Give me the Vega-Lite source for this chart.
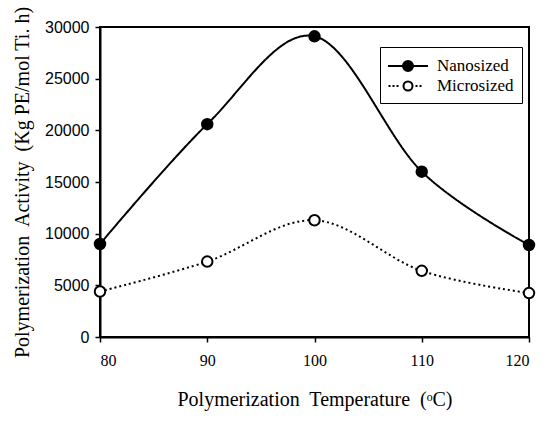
{
  "$schema": "https://vega.github.io/schema/vega-lite/v6.json",
  "autosize": {"type": "none"},
  "width": 429,
  "height": 310,
  "padding": {"left": 100, "top": 27, "right": 21, "bottom": 85},
  "background": "white",
  "config": {
    "view": {"stroke": "black", "strokeWidth": 2},
    "legend": {"symbolOpacity": 1},
    "axis": {
      "domainColor": "black",
      "domainWidth": 2,
      "tickColor": "black",
      "tickWidth": 1.5,
      "tickSize": 5,
      "labelColor": "black",
      "titleColor": "black",
      "grid": false,
      "titleFont": "Liberation Serif",
      "titleFontSize": 20,
      "titleFontWeight": "normal"
    }
  },
  "data": {
    "values": [
      {"temp": 80, "activity": 9000, "series": "Nanosized"},
      {"temp": 90, "activity": 20600, "series": "Nanosized"},
      {"temp": 100, "activity": 29100, "series": "Nanosized"},
      {"temp": 110, "activity": 16000, "series": "Nanosized"},
      {"temp": 120, "activity": 8900, "series": "Nanosized"},
      {"temp": 80, "activity": 4400, "series": "Microsized"},
      {"temp": 90, "activity": 7300, "series": "Microsized"},
      {"temp": 100, "activity": 11300, "series": "Microsized"},
      {"temp": 110, "activity": 6400, "series": "Microsized"},
      {"temp": 120, "activity": 4250, "series": "Microsized"}
    ]
  },
  "encoding": {
    "x": {
      "field": "temp",
      "type": "quantitative",
      "scale": {"domain": [80, 120], "nice": false, "zero": false},
      "axis": {
        "values": [80, 90, 100, 110, 120],
        "labelFont": "Liberation Serif",
        "labelFontSize": 16,
        "labelPadding": 10,
        "title": "Polymerization\u00a0 Temperature\u00a0 (\u1d52C)",
        "titlePadding": 21
      }
    },
    "y": {
      "field": "activity",
      "type": "quantitative",
      "scale": {"domain": [0, 30000], "nice": false},
      "axis": {
        "values": [0, 5000, 10000, 15000, 20000, 25000, 30000],
        "format": "d",
        "labelFont": "Liberation Sans",
        "labelFontSize": 16,
        "labelPadding": 6,
        "title": "Polymerization\u00a0 Activity\u00a0 (Kg PE/mol Ti. h)",
        "titlePadding": 12
      }
    }
  },
  "layer": [
    {
      "mark": {"type": "line", "interpolate": "cardinal", "stroke": "black", "strokeWidth": 2},
      "encoding": {
        "detail": {"field": "series"},
        "strokeDash": {
          "field": "series",
          "type": "nominal",
          "scale": {"domain": ["Microsized", "Nanosized"], "range": [[2, 3], [1, 0]]},
          "legend": null
        }
      }
    },
    {
      "mark": {"type": "point", "shape": "circle", "filled": true, "stroke": "black", "strokeWidth": 2, "size": 110, "opacity": 1},
      "encoding": {
        "fill": {
          "field": "series",
          "type": "nominal",
          "scale": {"domain": ["Nanosized", "Microsized"], "range": ["black", "white"]},
          "legend": {
            "title": null,
            "orient": "none",
            "legendX": 280,
            "legendY": 20,
            "padding": 8,
            "strokeColor": "black",
            "fillColor": "white",
            "symbolSize": 400,
            "symbolStrokeWidth": 2,
            "symbolStrokeColor": "black",
            "symbolOffset": 9,
            "labelOffset": 18,
            "rowPadding": 0,
            "labelFont": "Liberation Serif",
            "labelFontSize": 17,
            "labelColor": "black"
          }
        }
      }
    },
    {
      "mark": {"type": "point", "filled": true, "stroke": "black", "strokeWidth": 2, "opacity": 0},
      "encoding": {
        "shape": {
          "field": "series",
          "type": "nominal",
          "scale": {
            "domain": ["Nanosized", "Microsized"],
            "range": [
              "M-2,0H-0.5M0.5,0H2M-0.5,0A0.5,0.5,0,1,0,0.5,0A0.5,0.5,0,1,0,-0.5,0Z",
              "M-1.95,0h0.2M-1.55,0h0.2M-1.15,0h0.2M0.75,0h0.2M1.15,0h0.2M-0.45,0A0.45,0.45,0,1,0,0.45,0A0.45,0.45,0,1,0,-0.45,0Z"
            ]
          }
        }
      }
    }
  ]
}
